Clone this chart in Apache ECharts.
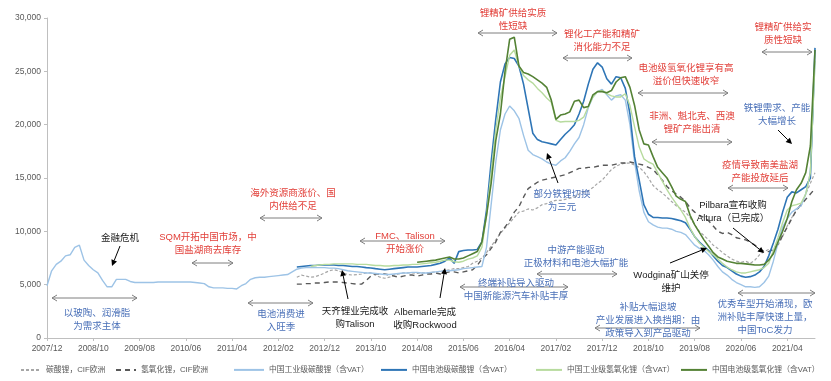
<!DOCTYPE html>
<html><head><meta charset="utf-8">
<script src="https://cdn.jsdelivr.net/npm/echarts@6/dist/echarts.min.js"></script>
<style>html,body{margin:0;padding:0;background:#fff}#c{width:831px;height:381px}</style>
</head><body><div id="c"></div>
<script>
// ---------- categories (monthly, 2007/12 .. 2021/10) ----------
const firstYear = 2007, firstMonth = 12, monthCount = 167;
const categories = [];
for (let k = 0; k < monthCount; k++) {
  const t = firstYear * 12 + (firstMonth - 1) + k;
  const y = Math.floor(t / 12), m = t % 12 + 1;
  categories.push(y + '/' + (m < 10 ? '0' : '') + m);
}
const labelEvery = 10;
const yTicks = [0, 5000, 10000, 15000, 20000, 25000, 30000];

const seriesNames = ['碳酸锂，CIF欧洲', '氢氧化锂，CIF欧洲', '中国工业级碳酸锂（含VAT）',
  '中国电池级碳酸锂（含VAT）', '中国工业级氢氧化锂（含VAT）', '中国电池级氢氧化锂（含VAT）'];

// 碳酸锂，CIF欧洲  (from 2012/06)
const cifCarbonateStart = '2012/06';
const cifCarbonate = [
5700,5900,5800,5700,5750,5900,6100,6300,6400,6300,
6100,5950,5900,5950,6000,6100,6100,5900,5700,5600,
5700,5900,6000,6100,6100,6100,6050,6100,6100,6150,
6200,6250,6300,6400,6500,6500,6600,6700,7000,7200,
7500,8000,8600,9200,9800,10300,10800,11300,11800,11900,
12100,12000,12200,12500,12600,12800,12900,12900,13000,13100,
13200,13500,13700,13800,14100,14500,14800,15300,15800,16100,
16300,16400,16400,16200,16000,15600,15000,14300,13900,13600,
13200,12800,12400,12100,11800,11300,10600,10000,9600,9200,
8700,8400,8000,7700,7400,7200,7100,7200,7000,7300,
7800,8100,8300,8200,8700,9500,10500,11300,12000,12400,
13500,14500,15500];

// 氢氧化锂，CIF欧洲 (from 2012/06)
const cifHydroxideStart = '2012/06';
const cifHydroxide = [
5050,5050,5100,5100,5150,5150,5200,5250,5250,5250,
5200,5150,5100,5050,5050,5400,5800,6000,6000,6000,
5900,5800,5700,5800,5900,5900,5800,5900,6000,6000,
6100,6000,6100,6200,6200,6100,6200,6300,6400,6800,
7400,7800,8400,9000,9900,10400,11000,11800,12300,13200,
14000,14300,14600,14800,14900,15000,15100,15200,15300,15500,
15700,15900,15900,16000,16000,16100,16200,16200,16200,16300,
16400,16400,16500,16400,16300,16200,16000,15800,15300,14800,
14200,13800,13500,13200,12800,12200,11800,11500,11300,11000,
10500,10000,9800,9900,9700,9400,9300,9200,9000,8700,
8400,8100,8100,8300,8800,9600,10400,11200,12000,12500,
13000,13500,14000];

// 中国工业级碳酸锂（含VAT） (from 2007/12)
const indCarbonateStart = '2007/12';
const indCarbonate = [
4900,6300,6900,7200,7700,7800,8500,8700,7300,6800,
6400,6100,5400,4800,4800,5500,5500,5500,5300,5200,
5200,5200,5200,5200,5250,5250,5250,5250,5250,5250,
5250,5250,5200,5150,5100,4800,4700,4700,4700,4650,
4650,4600,4900,5100,5500,5650,5700,5700,5750,5800,
5850,5900,5950,6200,6450,6550,6600,6600,6600,6600,
6600,6550,6550,6500,6400,6300,6250,6200,6150,6100,
6100,6050,6000,5950,5950,6000,6050,6100,6100,6150,
6150,6100,6100,6150,6200,6250,6300,6300,6350,6400,
6500,6550,6600,6650,6700,8500,12500,16500,19500,21000,
21750,21300,20600,19000,17600,17200,17000,16800,16500,16300,
16200,16600,16900,17500,18200,18800,20000,21600,22600,23100,
23300,22800,22300,22700,22800,22300,20000,16500,13800,11800,
10900,10600,10400,10300,10300,10200,10000,9900,9700,9200,
8700,8400,8200,7800,7300,6700,6200,5900,5500,5200,
5000,4800,4800,4750,4800,5200,5800,7200,8900,10400,
11200,11800,12100,12400,13500,15500,26000];

// 中国电池级碳酸锂（含VAT） (from 2012/06)
const batCarbonateStart = '2012/06';
const batCarbonate = [
6650,6700,6750,6800,6800,6850,6850,6850,6850,6800,
6800,6750,6700,6700,6650,6600,6560,6500,6450,6400,
6450,6500,6550,6600,6650,6650,6650,6700,6750,6800,
6900,7000,7200,7500,7000,8100,8200,8250,8250,8300,
9000,12000,16500,20500,24000,25700,26300,26200,25500,23800,
21500,19200,18600,18400,18300,18200,18100,18600,19100,19500,
20000,21000,22200,23800,25200,25800,25400,24300,23800,24500,
24400,23400,21000,17000,14800,12500,11600,11300,11300,11250,
11250,11200,11100,11000,10800,10200,9500,9000,8600,8200,
7700,7200,6800,6600,6300,6000,5800,5700,5750,5900,
6200,6700,7700,8900,10200,11800,13200,13700,13600,13900,
14200,15000,27200];

// 中国工业级氢氧化锂（含VAT） (from 2012/09)
const indHydroxideStart = '2012/09';
const indHydroxide = [
6700,6800,6850,6900,6900,6950,6950,
6950,6950,6950,6900,6900,6900,6850,6800,6800,6750,
6750,6800,6800,6850,6850,6900,6900,6950,7000,7050,
7100,7200,7300,7300,7150,7100,7200,7400,7500,7700,
8500,11500,15500,19500,22500,24500,26500,27000,25500,24600,
24200,23900,23400,23000,22500,22100,20400,20250,20300,20300,
20300,20400,20700,21700,22600,23100,23200,22900,22700,22600,
22600,22900,21800,19800,17900,16800,16500,16300,15500,14700,
13900,13200,12600,12000,11300,10300,9500,8900,8500,8100,
7800,7400,7000,6650,6400,6200,6100,6100,6200,6300,
6400,6600,7000,8200,9400,10800,12000,12400,12500,12650,
13500,15500,26000];

// 中国电池级氢氧化锂（含VAT） (from 2014/08)
const batHydroxideStart = '2014/08';
const batHydroxide = [
7100,7150,7200,7250,7300,7400,7500,7600,7400,7400,7500,7700,7900,8100,
9000,11500,14500,18500,21000,25000,28000,28200,25500,24900,
24750,24500,24200,23900,23500,22300,20500,20900,21000,21200,
22200,22300,21600,21700,22800,23100,23100,23000,23200,24000,
24400,24500,23500,21800,19500,18200,18100,17000,16000,15500,
15000,14200,13300,13000,12800,11500,10600,9900,9200,8600,
8000,7600,7400,7200,7100,7000,7000,6950,6900,6850,
6850,6900,7300,7900,9000,10000,11200,12800,13900,14500,
15500,18000,27000];

// ---------- styling ----------
const colors = ['#A6A6A6', '#595959', '#9DC3E6', '#2E75B6', '#B7DB9E', '#548235'];
const lineTypes = [[3, 2], [5, 4], 'solid', 'solid', 'solid', 'solid'];
const lineWidths = [1.2, 1.4, 1.4, 1.6, 1.4, 1.6];
const starts = [cifCarbonateStart, cifHydroxideStart, indCarbonateStart, batCarbonateStart, indHydroxideStart, batHydroxideStart];
const values = [cifCarbonate, cifHydroxide, indCarbonate, batCarbonate, indHydroxide, batHydroxide];
const legendLefts = [15, 110, 228, 375, 530, 675];
const legendIconW = [20, 20, 30, 26, 26, 26];

const series = values.map((vals, s) => {
  const off = categories.indexOf(starts[s]);
  return {
    name: seriesNames[s], type: 'line', showSymbol: false, symbol: 'none',
    data: vals.map((v, k) => [categories[off + k], v]),
    lineStyle: { color: colors[s], width: lineWidths[s], type: lineTypes[s] },
    itemStyle: { color: colors[s] },
    z: 2 + s, silent: true
  };
});

const CJK = '"Liberation Sans","Noto Sans CJK SC",sans-serif';
const RED = '#E2403A', BLUE = '#4A70B8', BLACK = '#1A1A1A', ARROW = '#7F7F7F';
const annotations = [
  { lines: ['锂精矿供给实质', '性短缺'], cx: 513, y: 13, c: RED, d: [478, 557, 33] },
  { lines: ['锂化工产能和精矿', '消化能力不足'], cx: 602, y: 34, c: RED, d: [563, 632, 58] },
  { lines: ['电池级氢氧化锂享有高', '溢价但快速收窄'], cx: 686, y: 68, c: RED, d: [638, 728, 93] },
  { lines: ['非洲、魁北克、西澳', '锂矿产能出清'], cx: 692, y: 116, c: RED, d: [652, 732, 142] },
  { lines: ['锂精矿供给实', '质性短缺'], cx: 783, y: 27, c: RED, d: [762, 812, 52] },
  { lines: ['疫情导致南美盐湖', '产能投放延后'], cx: 760, y: 165, c: RED, d: [728, 788, 188] },
  { lines: ['海外资源商涨价、国', '内供给不足'], cx: 293, y: 193, c: RED, d: [260, 322, 218] },
  { lines: ['SQM开拓中国市场，中', '国盐湖商去库存'], cx: 208, y: 237, c: RED, d: [192, 233, 263] },
  { lines: ['FMC、Talison', '开始涨价'], cx: 405, y: 236, c: RED, d: [360, 445, 241] },
  { lines: ['金融危机'], cx: 120, y: 238, c: BLACK, a: [120, 246, 112, 266] },
  { lines: ['天齐锂业完成收', '购Talison'], cx: 355, y: 311, c: BLACK, a: [348, 299, 342, 270] },
  { lines: ['Albemarle完成', '收购Rockwood'], cx: 425, y: 312, c: BLACK, a: [440, 298, 445, 268] },
  { lines: ['Pilbara宣布收购', 'Altura（已完成）'], cx: 733, y: 205, c: BLACK, a: [733, 228, 764, 253] },
  { lines: ['Wodgina矿山关停', '维护'], cx: 671, y: 275, c: BLACK, a: [670, 263, 707, 248] },
  { lines: ['以玻陶、润滑脂', '为需求主体'], cx: 97, y: 313, c: BLUE, d: [52, 137, 298] },
  { lines: ['电池消费进', '入旺季'], cx: 281, y: 314, c: BLUE, d: [248, 313, 303] },
  { lines: ['终端补贴导入驱动', '中国新能源汽车补贴丰厚'], cx: 516, y: 283, c: BLUE, d: [460, 568, 287] },
  { lines: ['中游产能驱动', '正极材料和电池大幅扩能'], cx: 576, y: 250, c: BLUE, d: [537, 617, 274] },
  { lines: ['部分铁锂切换', '为三元'], cx: 562, y: 194, c: BLUE, a: [558, 183, 547, 153] },
  { lines: ['补贴大幅退坡', '产业发展进入换挡期：由', '政策导入到产品驱动'], cx: 648, y: 307, c: BLUE, d: [595, 700, 328] },
  { lines: ['铁锂需求、产能', '大幅增长'], cx: 777, y: 108, c: BLUE, a: [778, 130, 792, 144] },
  { lines: ['优秀车型开始涌现，欧', '洲补贴丰厚快速上量，', '中国ToC发力'], cx: 765, y: 304, c: BLUE, d: [738, 815, 293] }
];

const graphics = [];
function dArrow(x1, x2, y) {
  graphics.push({ type: 'line', shape: { x1: x1, y1: y, x2: x2, y2: y }, style: { stroke: ARROW, lineWidth: 1 }, z: 50 });
  graphics.push({ type: 'polyline', shape: { points: [[x1 + 5, y - 3], [x1, y], [x1 + 5, y + 3]] }, style: { stroke: ARROW, lineWidth: 1, fill: null }, z: 50 });
  graphics.push({ type: 'polyline', shape: { points: [[x2 - 5, y - 3], [x2, y], [x2 - 5, y + 3]] }, style: { stroke: ARROW, lineWidth: 1, fill: null }, z: 50 });
}
function sArrow(x1, y1, x2, y2) {
  const dx = x2 - x1, dy = y2 - y1, L = Math.sqrt(dx * dx + dy * dy), ux = dx / L, uy = dy / L;
  const bx = x2 - ux * 6, by = y2 - uy * 6;
  graphics.push({ type: 'line', shape: { x1: x1, y1: y1, x2: bx, y2: by }, style: { stroke: '#000', lineWidth: 1 }, z: 50 });
  graphics.push({ type: 'polygon', shape: { points: [[x2, y2], [bx - uy * 3, by + ux * 3], [bx + uy * 3, by - ux * 3]] }, style: { fill: '#000' }, z: 50 });
}
annotations.forEach(a => {
  a.lines.forEach((t, k) => {
    graphics.push({ type: 'text', x: a.cx, y: a.y + k * 13, z: 60,
      style: { text: t, fill: a.c, font: '9.5px ' + CJK, align: 'center', verticalAlign: 'middle', textAlign: 'center', textVerticalAlign: 'middle' } });
  });
  if (a.d) dArrow(a.d[0], a.d[1], a.d[2]);
  if (a.a) sArrow(a.a[0], a.a[1], a.a[2], a.a[3]);
});

const legends = seriesNames.map((n, s) => ({
  data: [n], left: legendLefts[s], top: 361, itemWidth: legendIconW[s], itemHeight: 8, itemGap: 4,
  itemStyle: { color: 'rgba(0,0,0,0)', borderWidth: 0, opacity: 0 },
  textStyle: { color: '#595959', fontSize: 7.8, fontFamily: CJK }, selectedMode: false
}));

const chart = echarts.init(document.getElementById('c'), null, { renderer: 'canvas' });
chart.setOption({
  animation: false,
  backgroundColor: '#fff',
  grid: { left: 47, right: 16, top: 18, bottom: 43, containLabel: false },
  legend: legends,
  xAxis: {
    type: 'category', data: categories, boundaryGap: false,
    axisLine: { lineStyle: { color: '#BFBFBF', width: 1 } },
    axisTick: { show: true, interval: idx => idx % labelEvery === 0, length: 3, lineStyle: { color: '#BFBFBF' } },
    axisLabel: { interval: idx => idx % labelEvery === 0, color: '#595959', fontSize: 8.5, fontFamily: '"Liberation Sans",Arial,sans-serif', margin: 6 },
    splitLine: { show: false }
  },
  yAxis: {
    type: 'value', min: yTicks[0], max: yTicks[yTicks.length - 1], interval: yTicks[1] - yTicks[0],
    axisLine: { show: true, lineStyle: { color: '#BFBFBF', width: 1 } },
    axisTick: { show: true, length: 3, lineStyle: { color: '#BFBFBF' } },
    axisLabel: { color: '#595959', fontSize: 8.5, fontFamily: '"Liberation Sans",Arial,sans-serif', margin: 6,
      formatter: v => v.toLocaleString('en-US') },
    splitLine: { show: false }
  },
  series: series,
  graphic: { elements: graphics }
});
</script></body></html>
